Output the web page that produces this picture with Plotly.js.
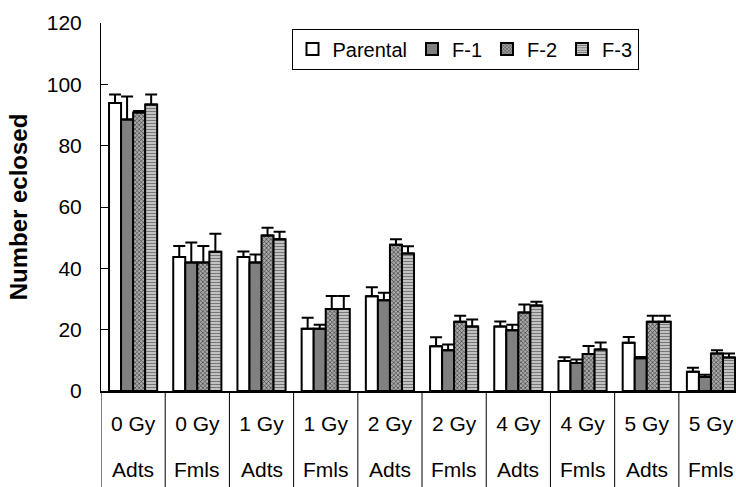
<!DOCTYPE html>
<html>
<head>
<meta charset="utf-8">
<script src="https://cdn.plot.ly/plotly-3.0.1.min.js"></script>
<style>html,body{margin:0;padding:0;background:#fff;}#chart{width:736px;height:487px;}</style>
</head>
<body>
<div id="chart"></div>
<script>
const categories = ['0 Gy Adts','0 Gy Fmls','1 Gy Adts','1 Gy Fmls','2 Gy Adts','2 Gy Fmls','4 Gy Adts','4 Gy Fmls','5 Gy Adts','5 Gy Fmls'];
const doseLabels = ['0 Gy','0 Gy','1 Gy','1 Gy','2 Gy','2 Gy','4 Gy','4 Gy','5 Gy','5 Gy'];
const sexLabels = ['Adts','Fmls','Adts','Fmls','Adts','Fmls','Adts','Fmls','Adts','Fmls'];
const seriesNames = ['Parental','F-1','F-2','F-3'];

const parental    = [93.9, 43.7, 43.7, 20.3, 30.9, 14.6, 21.0, 9.8, 15.7, 6.3];
const parentalErr = [2.8, 3.6, 1.8, 3.6, 2.9, 2.9, 1.7, 1.2, 1.9, 1.3];
const f1          = [88.5, 41.9, 41.9, 20.3, 29.6, 13.3, 19.8, 9.1, 10.7, 4.6];
const f1Err       = [7.5, 6.5, 2.6, 1.3, 2.4, 1.9, 1.8, 1.2, 0.4, 0.7];
const f2          = [90.8, 41.9, 50.7, 26.7, 47.7, 22.6, 25.6, 12.1, 22.6, 12.2];
const f2Err       = [0.5, 5.4, 2.5, 4.3, 1.8, 1.9, 2.6, 2.6, 1.9, 1.1];
const f3          = [93.4, 45.4, 49.5, 26.7, 44.8, 21.0, 27.9, 13.5, 22.6, 10.9];
const f3Err       = [3.3, 5.9, 2.4, 4.3, 2.4, 2.3, 1.2, 2.3, 1.9, 1.3];

const values = [parental, f1, f2, f3];
const errs = [parentalErr, f1Err, f2Err, f3Err];
const markers = [
  {color:'#ffffff'},
  {color:'#808080'},
  {color:'#999999', pattern:{shape:'x', fgcolor:'#2a2a2a', bgcolor:'#aaaaaa', size:3, solidity:0.35}},
  {color:'#bbbbbb', pattern:{shape:'-', fgcolor:'#777777', bgcolor:'#d2d2d2', size:3, solidity:0.45}}
];

const traces = seriesNames.map((name, i) => ({
  type:'bar', name:name, x:categories, y:values[i],
  marker:Object.assign({}, markers[i], {line:{color:'#000', width:2}}),
  error_y:{type:'data', symmetric:false, array:errs[i], arrayminus:errs[i].map(()=>0), color:'#000', thickness:2, width:6},
  hoverinfo:'x+y'
}));

const shapes = [];
for (let k = 0; k <= categories.length; k++) {
  shapes.push({type:'line', xref:'x', yref:'paper', x0:k-0.5, x1:k-0.5, y0:0, y1:-0.27, line:{color:'#000', width:1}});
}
const annotations = sexLabels.map((s, i) => ({
  xref:'x', yref:'paper', x:categories[i], y:-0.213, text:s, showarrow:false,
  xanchor:'center', yanchor:'middle', font:{size:21, color:'#000'}
}));

const layout = {
  width:736, height:487,
  margin:{l:101, r:0, t:23, b:96, pad:0},
  paper_bgcolor:'#fff', plot_bgcolor:'#fff',
  font:{family:'"Liberation Sans", Arial, sans-serif', color:'#000'},
  barmode:'group', bargap:0.25, bargroupgap:0,
  showlegend:true,
  legend:{orientation:'h', x:0.3, xanchor:'left', y:0.985, yanchor:'top',
    bordercolor:'#000', borderwidth:1, bgcolor:'#fff', font:{size:20}, itemwidth:30},
  xaxis:{type:'category', range:[-0.5, 9.39], tickvals:categories, ticktext:doseLabels,
    ticks:'', showline:true, linecolor:'#000', linewidth:2, showgrid:false, zeroline:false,
    tickfont:{size:21}, ticklabelstandoff:13},
  yaxis:{range:[0,120], dtick:20, ticks:'inside', ticklen:7, tickcolor:'#000', tickwidth:1,
    showline:true, linecolor:'#000', linewidth:1, showgrid:false, zeroline:false,
    tickfont:{size:21}, ticklabelstandoff:14,
    title:{text:'<b>Number eclosed</b>', font:{size:24}, standoff:12}},
  shapes:shapes, annotations:annotations
};

Plotly.newPlot('chart', traces, layout, {displayModeBar:false, staticPlot:true});
</script>
</body>
</html>
